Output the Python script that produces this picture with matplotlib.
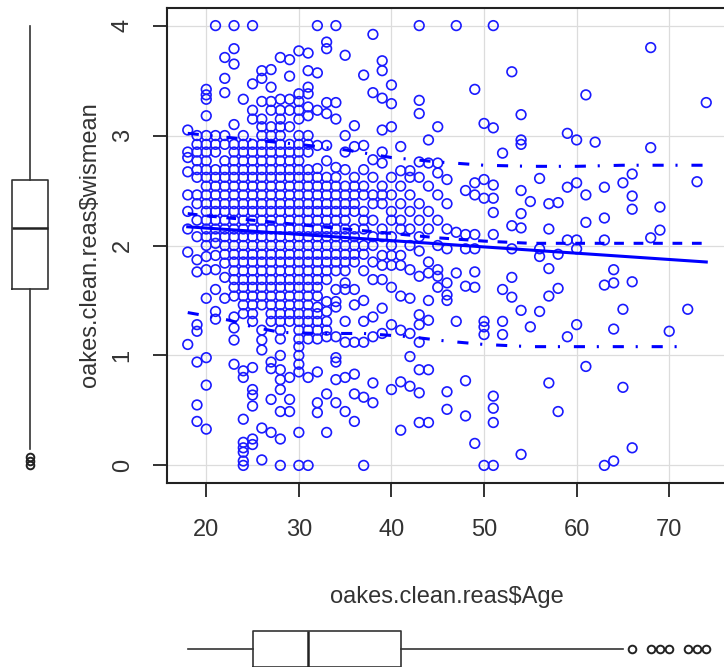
import matplotlib
matplotlib.use("Agg")
import matplotlib.pyplot as plt

plt.rcParams['font.family'] = ['Liberation Sans', 'DejaVu Sans']
plt.rcParams['lines.scale_dashes'] = False

# one entry per age, wismean scores
ages = list(range(18, 75))
wismean = [
    [3.05, 2.85, 2.8, 2.67, 2.46, 2.31, 2.15, 1.94, 1.1],                                   # 18
    [3.0, 2.92, 2.85, 2.77, 2.69, 2.62, 2.46, 2.38, 2.23, 2.08, 1.87, 1.76, 1.28, 1.22,
     0.94, 0.55, 0.4],                                                                      # 19
    [3.42, 3.37, 3.33, 3.18, 3.0, 2.92, 2.85, 2.77, 2.69, 2.62, 2.54, 2.46, 2.38, 2.31,
     2.23, 2.15, 2.08, 2.0, 1.9, 1.78, 1.52, 0.98, 0.73, 0.33],                             # 20
    [4.0, 3.0, 2.92, 2.85, 2.69, 2.62, 2.54, 2.46, 2.38, 2.31, 2.23, 2.15, 2.08, 2.02,
     1.91, 1.78, 1.6, 1.4, 1.33],                                                           # 21
    [3.71, 3.52, 3.39, 3.0, 2.92, 2.77, 2.69, 2.62, 2.54, 2.46, 2.38, 2.31, 2.23, 2.15,
     2.08, 2.0, 1.92, 1.84, 1.71, 1.52],                                                    # 22
    [4.0, 3.79, 3.65, 3.1, 2.92, 2.85, 2.77, 2.69, 2.62, 2.54, 2.46, 2.38, 2.31, 2.23,
     2.15, 2.08, 2.0, 1.92, 1.85, 1.77, 1.69, 1.62, 1.54, 1.35, 1.25, 1.14, 0.92],          # 23
    [3.33, 3.0, 2.92, 2.85, 2.77, 2.69, 2.62, 2.54, 2.46, 2.38, 2.31, 2.23, 2.15, 2.08,
     2.0, 1.92, 1.85, 1.77, 1.69, 1.62, 1.54, 1.46, 1.38, 0.86, 0.8, 0.42, 0.21, 0.16,
     0.12, 0.04, 0.0],                                                                      # 24
    [4.0, 3.47, 3.23, 3.15, 2.92, 2.85, 2.77, 2.69, 2.62, 2.54, 2.46, 2.38, 2.31, 2.23,
     2.15, 2.08, 2.0, 1.92, 1.85, 1.77, 1.69, 1.62, 1.54, 1.46, 1.38, 1.31, 0.89, 0.69,
     0.64, 0.54, 0.24, 0.19],                                                               # 25
    [3.59, 3.52, 3.31, 3.15, 3.08, 3.0, 2.92, 2.85, 2.77, 2.69, 2.62, 2.54, 2.46, 2.38,
     2.31, 2.23, 2.15, 2.08, 2.0, 1.92, 1.85, 1.77, 1.69, 1.62, 1.54, 1.46, 1.23, 1.14,
     1.05, 0.34, 0.05],                                                                     # 26
    [3.6, 3.44, 3.31, 3.23, 3.08, 3.0, 2.92, 2.85, 2.77, 2.69, 2.62, 2.54, 2.46, 2.38,
     2.31, 2.23, 2.15, 2.08, 2.0, 1.92, 1.85, 1.77, 1.69, 1.62, 1.54, 1.46, 1.38, 1.31,
     0.94, 0.88, 0.6, 0.3],                                                                 # 27
    [3.71, 3.33, 3.23, 3.15, 3.08, 3.0, 2.92, 2.85, 2.77, 2.69, 2.62, 2.54, 2.46, 2.38,
     2.31, 2.23, 2.15, 2.08, 2.0, 1.92, 1.85, 1.77, 1.69, 1.62, 1.54, 1.46, 1.38, 1.31,
     1.23, 1.15, 1.0, 0.87, 0.78, 0.69, 0.49, 0.24, 0.0],                                   # 28
    [3.69, 3.54, 3.33, 3.23, 3.08, 2.92, 2.85, 2.77, 2.69, 2.62, 2.54, 2.46, 2.38, 2.31,
     2.23, 2.15, 2.08, 2.0, 1.92, 1.85, 1.77, 1.69, 1.62, 1.54, 1.46, 1.38, 1.31, 0.8,
     0.6, 0.49],                                                                            # 29
    [3.77, 3.38, 3.31, 3.23, 3.15, 3.0, 2.92, 2.85, 2.77, 2.69, 2.62, 2.54, 2.46, 2.38,
     2.31, 2.23, 2.15, 2.08, 2.0, 1.92, 1.85, 1.77, 1.69, 1.62, 1.54, 1.46, 1.38, 1.31,
     1.23, 1.15, 1.08, 1.0, 0.92, 0.85, 0.3, 0.0],                                          # 30
    [3.75, 3.59, 3.44, 3.38, 3.26, 3.18, 3.0, 2.92, 2.85, 2.69, 2.62, 2.54, 2.46, 2.38,
     2.31, 2.23, 2.15, 2.08, 2.0, 1.92, 1.85, 1.77, 1.69, 1.62, 1.54, 1.46, 1.38, 1.31,
     1.23, 1.15, 0.8, 0.0],                                                                 # 31
    [4.0, 3.57, 3.23, 2.91, 2.7, 2.62, 2.54, 2.46, 2.38, 2.31, 2.23, 2.15, 2.08, 2.0,
     1.92, 1.85, 1.77, 1.69, 1.62, 1.54, 1.44, 1.38, 1.31, 1.23, 1.15, 0.85, 0.57, 0.48],   # 32
    [3.85, 3.79, 3.3, 3.2, 2.91, 2.77, 2.62, 2.54, 2.46, 2.38, 2.31, 2.23, 2.15, 2.08,
     2.0, 1.92, 1.85, 1.77, 1.69, 1.49, 1.4, 1.31, 1.23, 1.17, 0.65, 0.3],                  # 33
    [4.0, 3.3, 3.15, 2.71, 2.62, 2.54, 2.46, 2.38, 2.31, 2.23, 2.15, 2.08, 2.0, 1.92,
     1.85, 1.77, 1.6, 1.49, 1.44, 1.17, 0.98, 0.94, 0.78, 0.57],                            # 34
    [3.73, 3.0, 2.85, 2.69, 2.54, 2.46, 2.38, 2.31, 2.23, 2.15, 2.08, 2.0, 1.92, 1.85,
     1.77, 1.66, 1.6, 1.31, 1.12, 0.8, 0.49],                                               # 35
    [3.09, 2.9, 2.62, 2.54, 2.46, 2.38, 2.31, 2.15, 2.08, 2.0, 1.92, 1.85, 1.6, 1.46,
     1.12, 0.83, 0.65, 0.4],                                                                # 36
    [3.55, 2.91, 2.69, 2.54, 2.46, 2.31, 2.23, 2.15, 2.0, 1.92, 1.77, 1.5, 1.31, 1.12,
     0.62, 0.0],                                                                            # 37
    [3.92, 3.39, 2.78, 2.62, 2.46, 2.38, 2.23, 2.08, 2.0, 1.85, 1.69, 1.35, 1.17, 0.75,
     0.57],                                                                                 # 38
    [3.68, 3.59, 3.34, 3.05, 2.85, 2.75, 2.54, 2.46, 2.38, 2.15, 2.08, 1.91, 1.82, 1.69,
     1.43, 1.2],                                                                            # 39
    [3.46, 3.29, 3.08, 2.62, 2.46, 2.31, 2.23, 2.08, 2.0, 1.91, 1.82, 1.62, 1.28, 0.69],   # 40
    [2.9, 2.68, 2.54, 2.38, 2.23, 2.15, 1.91, 1.82, 1.54, 1.23, 0.76, 0.32],               # 41
    [2.68, 2.62, 2.46, 2.31, 2.15, 2.0, 1.78, 1.52, 1.2, 0.99, 0.72],                      # 42
    [4.0, 3.32, 3.2, 2.76, 2.62, 2.38, 2.23, 2.08, 1.95, 1.72, 1.37, 1.28, 1.12, 0.87,
     0.66, 0.39],                                                                           # 43
    [2.96, 2.75, 2.54, 2.31, 2.15, 1.85, 1.75, 1.5, 1.32, 0.87, 0.39],                     # 44
    [3.08, 2.75, 2.66, 2.46, 2.23, 2.0, 1.78, 1.72, 1.62],                                 # 45
    [2.6, 2.38, 2.15, 1.97, 1.66, 1.55, 1.5, 0.67, 0.51],                                  # 46
    [4.0, 2.12, 1.75, 1.31],                                                               # 47
    [2.5, 2.1, 1.97, 1.63, 0.77, 0.45],                                                    # 48
    [3.42, 2.57, 2.46, 2.1, 1.97, 1.76, 1.62, 0.2],                                        # 49
    [3.11, 2.6, 2.43, 1.31, 1.26, 1.19, 0.0],                                              # 50
    [4.0, 3.07, 2.55, 2.43, 2.3, 2.1, 0.63, 0.52, 0.39, 0.0],                              # 51
    [2.84, 1.6, 1.31, 1.19],                                                               # 52
    [3.58, 2.18, 1.97, 1.71, 1.53],                                                        # 53
    [3.19, 2.96, 2.92, 2.5, 2.29, 2.16, 1.41, 0.1],                                        # 54
    [2.4, 1.26],                                                                           # 55
    [2.61, 1.97, 1.9, 1.4],                                                                # 56
    [2.38, 2.15, 1.79, 1.54, 0.75],                                                        # 57
    [2.39, 1.92, 1.61, 0.49],                                                              # 58
    [3.02, 2.53, 2.05, 1.17],                                                              # 59
    [2.96, 2.57, 2.05, 1.97, 1.28],                                                        # 60
    [3.37, 2.46, 2.21, 0.9],                                                               # 61
    [2.94],                                                                                # 62
    [2.53, 2.25, 2.05, 1.64, 0.0],                                                         # 63
    [1.78, 1.66, 1.24, 0.04],                                                              # 64
    [2.57, 1.42, 0.71],                                                                    # 65
    [2.65, 2.45, 2.33, 1.67, 0.16],                                                        # 66
    [],                                                                                    # 67
    [3.8, 2.89, 2.07],                                                                     # 68
    [2.35, 2.14],                                                                          # 69
    [1.22],                                                                                # 70
    [],                                                                                    # 71
    [1.42],                                                                                # 72
    [2.58],                                                                                # 73
    [3.3],                                                                                 # 74
]

# linear fit and smoother with spread
fit_age = [18, 74]
fit_wis = [2.17, 1.85]
smooth_age = [18, 20, 25, 30, 35, 40, 45, 50, 55, 60, 65, 70, 74]
smooth_mid = [2.29, 2.27, 2.23, 2.19, 2.15, 2.11, 2.07, 2.04, 2.02, 2.02, 2.02, 2.02, 2.02]
hi_age = [18, 25, 30, 35, 40, 45, 50, 55, 60, 65, 70, 74]
hi_wis = [3.02, 2.96, 2.92, 2.87, 2.8, 2.76, 2.73, 2.72, 2.72, 2.73, 2.73, 2.73]
lo_age = [18, 20, 22.5, 25, 28, 32, 37, 42, 46, 50, 55, 60, 65, 72]
lo_wis = [1.39, 1.36, 1.32, 1.26, 1.21, 1.2, 1.2, 1.17, 1.13, 1.1, 1.08, 1.08, 1.08, 1.08]

# marginal boxplots: whisker low, q1, median, q3, whisker high
wis_box = [0.15, 1.6, 2.16, 2.6, 4.0]
wis_out = [0.0, 0.04, 0.08]
age_box = [18, 25, 31, 41, 65]
age_out = [66, 68, 69, 70, 72, 73, 74]

W, H = 724, 667
fig = plt.figure(figsize=(W / 100, H / 100), dpi=100)
L, R, T, B = 167, 727, 8, 483
ax = fig.add_axes([L / W, 1 - B / H, (R - L) / W, (B - T) / H])

xs = [a for a, vals in zip(ages, wismean) for _ in vals]
ys = [v for vals in wismean for v in vals]

ax.set_xlim(15.76, 76.24)
ax.set_ylim(-0.16, 4.16)
ax.set_xticks([20, 30, 40, 50, 60, 70])
ax.set_yticks([0, 1, 2, 3, 4])
ax.grid(True, color='#dcdcdc', linewidth=0.9, zorder=0)
ax.set_axisbelow(True)

ax.scatter(xs, ys, s=48, facecolors='none', edgecolors='#1a1aff', linewidths=1.2, zorder=3)

ax.plot(fit_age, fit_wis, color='#0000ff', lw=2.2, zorder=4)
ax.plot(smooth_age, smooth_mid, color='#0000ff', lw=2.2, dashes=(7, 7), zorder=4)
ax.plot(hi_age, hi_wis, color='#0000ff', lw=2.2, dashes=(8, 8.5, 1.5, 10), zorder=4)
ax.plot(lo_age, lo_wis, color='#0000ff', lw=2.2, dashes=(8, 8.5, 1.5, 10), zorder=4)

for s in ax.spines.values():
    s.set_linewidth(1.5)
    s.set_color('#222222')
ax.tick_params(direction='out', length=10, width=1.3, color='#222222',
               labelsize=17, labelcolor='#333333')
ax.tick_params(axis='x', pad=16)
ax.tick_params(axis='y', pad=14, labelrotation=90)
for lab in ax.get_yticklabels():
    lab.set_va('center')

fig.text(447 / W, 1 - 597 / H, 'oakes.clean.reas$Age', fontsize=17, color='#333333',
         ha='center', va='center')
fig.text(90 / W, 1 - 245 / H, 'oakes.clean.reas$wismean', fontsize=17, color='#333333',
         ha='center', va='center', rotation=90)

boxkw = dict(showcaps=False,
             boxprops=dict(color='#333333', lw=1.2),
             whiskerprops=dict(color='#333333', lw=1.2, linestyle='-'),
             medianprops=dict(color='#222222', lw=1.8),
             flierprops=dict(marker='o', markerfacecolor='none', markeredgecolor='#222222',
                             markersize=5.5, markeredgewidth=1.4))

axl = fig.add_axes([0, 1 - B / H, 60 / W, (B - T) / H])
axl.set_xlim(0, 60)
axl.set_ylim(-0.16, 4.16)
axl.axis('off')
axl.bxp([dict(whislo=wis_box[0], q1=wis_box[1], med=wis_box[2], q3=wis_box[3],
              whishi=wis_box[4], fliers=wis_out)],
        positions=[30], widths=36, vert=True, **boxkw)

axb = fig.add_axes([L / W, 0, (R - L) / W, 60 / H])
axb.set_xlim(15.76, 76.24)
axb.set_ylim(-18, 42)
axb.axis('off')
axb.bxp([dict(whislo=age_box[0], q1=age_box[1], med=age_box[2], q3=age_box[3],
              whishi=age_box[4], fliers=age_out)],
        positions=[0], widths=36, vert=False, **boxkw)

fig.savefig('out.png', dpi=100)
